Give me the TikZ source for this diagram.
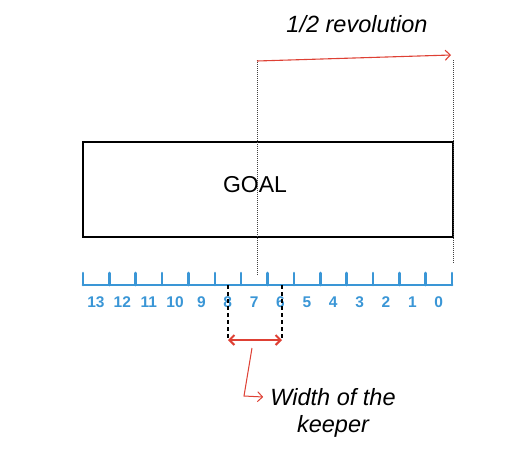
\documentclass[tikz,border=0pt]{standalone}
\usepackage{fontspec}
\setmainfont{Liberation Sans}
\usetikzlibrary{arrows.meta,calc}
\definecolor{RulerBlue}{RGB}{58,150,214}
\definecolor{NoteRed}{RGB}{222,64,52}

\begin{document}
\begin{tikzpicture}[x=1pt, y=-1pt, every node/.style={font=\fontsize{23.5}{27}\selectfont\itshape, inner sep=1pt}]
  \useasboundingbox (0,0) rectangle (528,453);
  % goal frame
  \draw[line width=2.2pt] (83,142) rectangle (453,237);
  \node[font=\fontsize{23}{26}\selectfont] (goal) at (255,185) {GOAL};

  % ruler
  \coordinate (r0) at (83,285);
  \coordinate (r1) at (452,285);
  \draw[RulerBlue, line width=2.8pt, line cap=round] (r0) -- (r1);
  \foreach \i in {0,...,14}
    \draw[RulerBlue, line width=2.6pt, line cap=round] ($(r0)+(\i*26.36,0)$) -- ++(0,-12);
  \foreach \n [count=\i from 0] in {13,12,11,10,9,8,7,6,5,4,3,2,1,0}
    \node[font=\fontsize{15.5}{17}\selectfont\bfseries, text=RulerBlue] (d\n) at (96+\i*26.36,302) {\n};

  % half revolution
  \coordinate (hA) at (257,60);
  \coordinate (hB) at (453,60);
  \coordinate (hA2) at (257,275);
  \coordinate (hB2) at (453,263);
  \draw[densely dotted, gray!50!black, line width=1pt] (hA) -- (hA2);
  \draw[densely dotted, gray!50!black, line width=1pt] (hB) -- (hB2);
  \draw[-{Straight Barb[length=5pt]}, NoteRed, line width=1.1pt] (257,61) -- (451,55);
  \node (rev) at (357,24) {1/2 revolution};

  % keeper width
  \coordinate (kL) at (228,285);
  \coordinate (kR) at (282,285);
  \coordinate (kL2) at (228,340);
  \coordinate (kR2) at (282,340);
  \draw[dashed, line width=2.6pt, dash pattern=on 4pt off 3pt] (kL) -- (kL2);
  \draw[dashed, line width=2.6pt, dash pattern=on 4pt off 3pt] (kR) -- (kR2);
  \draw[{Straight Barb[length=5pt]}-{Straight Barb[length=5pt]}, NoteRed, line width=2pt] (kL2) -- (kR2);
  \node (keeper) at (333,414) {\begin{tabular}{c}Width of the\\[0pt]keeper\end{tabular}};
  \draw[-{Straight Barb[length=5pt]}, NoteRed, line width=1pt] (252,348) -- (244,396) -- (keeper.west |- 0,397);
\end{tikzpicture}
\end{document}
